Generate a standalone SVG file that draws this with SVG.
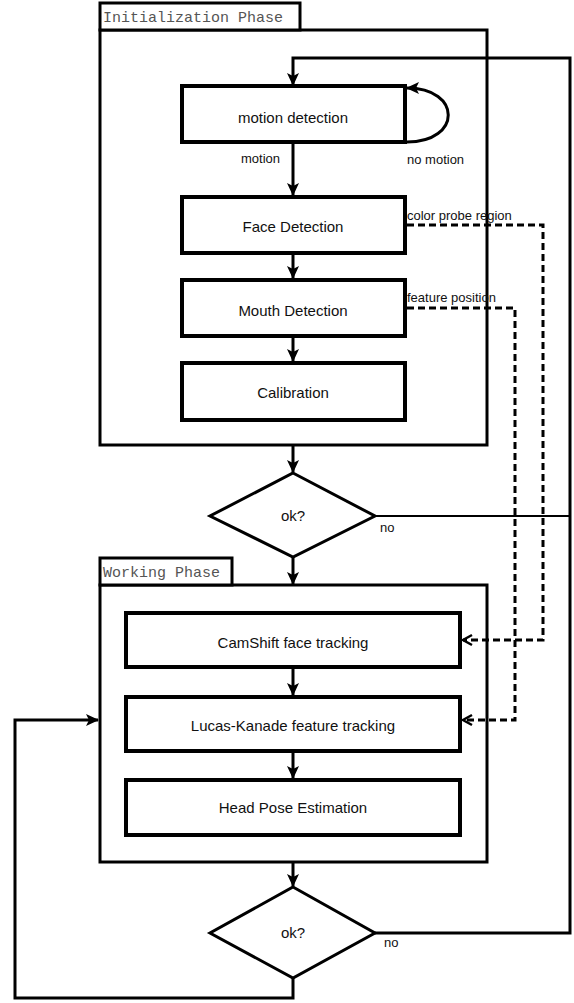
<svg xmlns="http://www.w3.org/2000/svg" width="574" height="1003" viewBox="0 0 574 1003">
<style>
.phase{fill:#fff;stroke:#000;stroke-width:3}
.box{fill:#fff;stroke:#000;stroke-width:4}
.dia{fill:#fff;stroke:#000;stroke-width:3}
.lbl{font-family:"Liberation Sans",Arial,sans-serif;font-size:15px;fill:#111;text-anchor:middle}
.sm{font-family:"Liberation Sans",Arial,sans-serif;font-size:13px;fill:#111}
.mono{font-family:"Liberation Mono","Courier New",monospace;font-size:15px;fill:#555}
.c{fill:none;stroke:#000;stroke-width:3}
.thin{fill:none;stroke:#000;stroke-width:2}
.d{fill:none;stroke:#000;stroke-width:3;stroke-dasharray:7,4}
</style>
<defs>
<marker id="ah" markerUnits="userSpaceOnUse" markerWidth="14" markerHeight="14" refX="12" refY="7" orient="auto">
<path d="M0,1 L13,7 L0,13 L3,7 z" fill="#000"/>
</marker>
<marker id="oh" markerUnits="userSpaceOnUse" markerWidth="14" markerHeight="14" refX="11" refY="7" orient="auto">
<path d="M2,2 L11,7 L2,12" fill="none" stroke="#000" stroke-width="2.5"/>
</marker>
</defs>
<g id="init-phase">
<rect class="phase" x="100" y="30" width="387" height="415"/>
<rect class="phase" x="100" y="3" width="200" height="27"/>
<text class="mono" x="103" y="22">Initialization Phase</text>
</g>
<g id="working-phase">
<rect class="phase" x="100" y="585" width="387" height="277"/>
<rect class="phase" x="100" y="558" width="132" height="27"/>
<text class="mono" x="103" y="577">Working Phase</text>
</g>
<g id="connectors">
<path class="c" d="M293,142 V195" marker-end="url(#ah)"/>
<path class="c" d="M293,253 V278" marker-end="url(#ah)"/>
<path class="c" d="M293,336 V361" marker-end="url(#ah)"/>
<path class="c" d="M293,445 V472" marker-end="url(#ah)"/>
<path class="c" d="M293,557 V584" marker-end="url(#ah)"/>
<path class="c" d="M293,667 V695" marker-end="url(#ah)"/>
<path class="c" d="M293,751 V778" marker-end="url(#ah)"/>
<path class="c" d="M293,862 V886" marker-end="url(#ah)"/>
<path class="c" d="M407,142 C462,142 462,88 407,88" marker-end="url(#ah)"/>
<path class="thin" d="M375,516 H570"/>
<path class="c" d="M375,933 H570 V58 H293 V85" marker-end="url(#ah)"/>
<path class="c" d="M293,978 V998 H15 V720 H98" marker-end="url(#ah)"/>
<path class="d" d="M407,225 H543 V640 H463" marker-end="url(#oh)"/>
<path class="d" d="M407,308 H515 V720 H463" marker-end="url(#oh)"/>
<text class="sm" x="241" y="163">motion</text>
<text class="sm" x="407" y="164">no motion</text>
<text class="sm" x="407" y="220">color probe region</text>
<text class="sm" x="407" y="302">feature position</text>
<text class="sm" x="380" y="532">no</text>
<text class="sm" x="384" y="947">no</text>
</g>
<g id="motion-detection">
<rect class="box" x="182" y="86" width="223" height="56"/>
<text class="lbl" x="293" y="123">motion detection</text>
</g>
<g id="face-detection">
<rect class="box" x="182" y="197" width="223" height="56"/>
<text class="lbl" x="293" y="232">Face Detection</text>
</g>
<g id="mouth-detection">
<rect class="box" x="182" y="280" width="223" height="56"/>
<text class="lbl" x="293" y="316">Mouth Detection</text>
</g>
<g id="calibration">
<rect class="box" x="182" y="363" width="223" height="57"/>
<text class="lbl" x="293" y="398">Calibration</text>
</g>
<g id="ok1">
<polygon class="dia" points="293,473 375,516 293,557 210,516"/>
<text class="lbl" x="293" y="521">ok?</text>
</g>
<g id="camshift">
<rect class="box" x="126" y="613" width="334" height="54"/>
<text class="lbl" x="293" y="648">CamShift face tracking</text>
</g>
<g id="lucas-kanade">
<rect class="box" x="126" y="697" width="334" height="54"/>
<text class="lbl" x="293" y="731">Lucas-Kanade feature tracking</text>
</g>
<g id="head-pose">
<rect class="box" x="126" y="780" width="334" height="55"/>
<text class="lbl" x="293" y="813">Head Pose Estimation</text>
</g>
<g id="ok2">
<polygon class="dia" points="293,887 375,933 293,978 210,933"/>
<text class="lbl" x="293" y="938">ok?</text>
</g>
</svg>
